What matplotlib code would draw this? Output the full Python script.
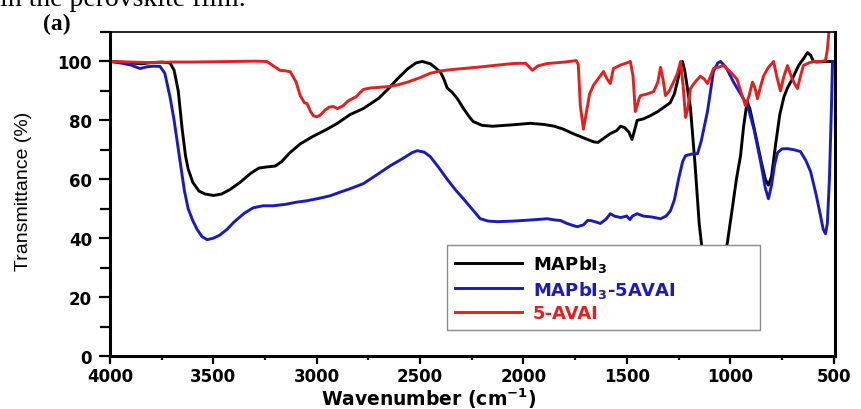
#!/usr/bin/env python3
# -*- coding: utf-8 -*-
"""
FTIR spectra: MAPbI3, MAPbI3-5AVAI and 5-AVAI
"""

import matplotlib
matplotlib.use('Agg')
import matplotlib.pyplot as plt
from matplotlib.ticker import MultipleLocator

plt.rcParams['font.family'] = ['DejaVu Sans']
plt.rcParams['mathtext.fontset'] = 'dejavusans'
plt.rcParams['mathtext.default'] = 'bf'

# MAPbI3 (black)
mapbi3_wn = [4000, 3950, 3900, 3850, 3800, 3750, 3710, 3690, 3670, 3651, 3635, 3622,
             3600, 3570, 3540, 3500, 3460, 3420, 3370, 3320, 3280, 3240, 3200, 3170,
             3130, 3080, 3020, 2950, 2900, 2838, 2775, 2700, 2650, 2611, 2560, 2520,
             2490, 2450, 2420, 2402, 2385, 2369, 2345, 2320, 2290, 2260, 2243, 2200,
             2150, 2050, 1967, 1900, 1850, 1807, 1760, 1725, 1690, 1660, 1640, 1610,
             1580, 1550, 1530, 1510, 1490, 1475, 1465, 1450, 1420, 1386, 1350, 1320,
             1290, 1270, 1256, 1240, 1231, 1220, 1205, 1192, 1170, 1150, 1134, 1100,
             1060, 1030, 1013, 990, 970, 950, 935, 918, 905, 880, 850, 830,
             815, 800, 780, 760, 740, 723, 700, 670, 640, 626, 610, 597,
             580, 540, 500]
mapbi3_t = [100, 99.8, 99.5, 99.2, 99.6, 99.8, 99.5, 97, 90, 77, 68, 63.5,
            59, 56, 55, 54.5, 55, 56.5, 59, 62, 63.8, 64.2, 64.5, 66,
            69, 72, 74.5, 77, 79, 82, 84, 87.5, 91, 94, 97.5, 99.5,
            100, 99.2, 97.5, 96.5, 94, 91, 89.5, 87.4, 84, 81, 79.6, 78.3,
            78, 78.5, 79, 78.6, 78, 77, 75.5, 74.5, 73.5, 72.7, 72.5, 74,
            75.5, 76.5, 78, 77.5, 76, 73.5, 76, 80, 80.5, 81.6, 83, 84.5,
            86, 89, 93, 98, 100, 97, 90, 84, 65, 45, 35, 20,
            20, 32, 38.8, 50, 60, 68, 78, 86.4, 84, 76, 66, 60,
            58, 61, 72, 82, 88, 91, 94, 98.5, 101.5, 103, 102, 100,
            99.8, 100, 100]

# MAPbI3-5AVAI (blue)
avai_film_wn = [4000, 3950, 3900, 3855, 3820, 3790, 3758, 3735, 3710, 3690, 3661, 3640,
                3622, 3600, 3579, 3555, 3530, 3500, 3470, 3434, 3400, 3350, 3308, 3260,
                3211, 3150, 3100, 3047, 2990, 2935, 2880, 2838, 2775, 2710, 2644, 2580,
                2540, 2514, 2480, 2451, 2410, 2369, 2330, 2291, 2250, 2209, 2170, 2127,
                2050, 1960, 1885, 1850, 1821, 1790, 1760, 1740, 1710, 1690, 1676, 1650,
                1628, 1600, 1580, 1560, 1530, 1500, 1485, 1473, 1450, 1420, 1380, 1337,
                1310, 1289, 1270, 1250, 1230, 1216, 1190, 1158, 1140, 1125, 1110, 1095,
                1081, 1060, 1047, 1020, 984, 950, 916, 885, 853, 830, 815, 800,
                785, 771, 750, 723, 690, 660, 635, 611, 585, 563, 550, 539,
                530, 520, 510, 505]
avai_film_t = [100, 99.5, 98.8, 97.6, 98.2, 98.4, 98.3, 96, 88, 80, 66, 56,
               50, 46, 43, 40.5, 39.5, 40, 41, 43, 45.5, 48.5, 50.3, 51,
               51, 51.5, 52.2, 52.7, 53.5, 54.4, 55.8, 56.8, 58.5, 61.5, 64.6, 67.2,
               69, 69.7, 69.2, 67.7, 64, 60, 56.5, 53.4, 50, 46.6, 45.8, 45.6,
               45.8, 46.2, 46.6, 46.2, 46, 45, 44.3, 43.9, 44.5, 46, 46, 45.5,
               45, 46.5, 48.3, 47.5, 47, 47.5, 46.3, 47.5, 48.3, 47.5, 47.2, 46.6,
               47.5, 49.3, 53, 60, 66, 68, 68.5, 68.7, 73, 78, 83, 90,
               96.6, 99.5, 100, 98, 93, 89, 85, 77, 66, 57, 53.4, 58,
               65, 69, 70.3, 70.4, 70, 69.4, 66.5, 62.6, 55, 47.6, 43, 41.5,
               45, 60, 85, 100]

# 5-AVAI (red)
avai_wn = [4000, 3900, 3800, 3700, 3600, 3500, 3400, 3300, 3242, 3210, 3178, 3150,
           3128, 3100, 3080, 3060, 3047, 3030, 3017, 3000, 2983, 2960, 2940, 2920,
           2900, 2872, 2850, 2838, 2810, 2775, 2740, 2700, 2650, 2611, 2560, 2500,
           2451, 2400, 2340, 2291, 2200, 2120, 2049, 1990, 1957, 1930, 1885, 1800,
           1745, 1735, 1725, 1710, 1695, 1680, 1661, 1640, 1613, 1595, 1580, 1565,
           1530, 1500, 1483, 1470, 1459, 1440, 1434, 1400, 1370, 1350, 1337, 1325,
           1313, 1295, 1274, 1255, 1240, 1228, 1216, 1205, 1192, 1170, 1144, 1125,
           1110, 1095, 1081, 1060, 1032, 1000, 967, 945, 926, 910, 892, 880,
           868, 855, 839, 815, 790, 775, 757, 740, 723, 700, 675, 660,
           646, 620, 597, 560, 539, 530, 520]
avai_t = [100, 99.8, 99.6, 99.8, 99.8, 99.9, 100, 100.1, 100, 98.5, 97, 96.8,
          96.5, 93, 88.4, 86, 85.7, 83, 81.6, 81.2, 81.8, 83.5, 84.5, 84.7,
          84, 85, 86.5, 87, 88, 90.5, 91, 91.2, 91.5, 92, 93, 94.5,
          96, 96.8, 97.3, 97.6, 98.2, 98.8, 99.3, 99.4, 97, 98.5, 99.3, 99.8,
          100.3, 99, 85, 77, 83, 89, 92, 94, 96.6, 94, 92.5, 97.6,
          98.8, 99.5, 100, 95, 83, 87.5, 88.4, 89, 89.8, 93, 98, 94,
          88.4, 90, 93, 96, 100, 92, 81, 84, 90.8, 93, 95, 94,
          92.5, 95, 97.6, 98, 98.6, 96.5, 94, 89, 85, 88, 93, 91,
          87.4, 91, 95, 98, 100, 95, 90, 95, 98.6, 94, 90.8, 95,
          98.6, 99.5, 100, 100, 100.3, 104, 112]

series_labels = [r'MAPbI$_{\mathbf{3}}$', r'MAPbI$_{\mathbf{3}}$-5AVAI', '5-AVAI']
series_colors = ['#000000', '#1a1ac4', '#e3201e']

x_ticks = [4000, 3500, 3000, 2500, 2000, 1500, 1000, 500]
y_ticks = [0, 20, 40, 60, 80, 100]


def main():
    fig = plt.figure(figsize=(8.61, 4.10), dpi=100)
    ax = fig.add_axes([0.1278, 0.1293, 0.8420, 0.7902])

    curves = [(mapbi3_wn, mapbi3_t), (avai_film_wn, avai_film_t), (avai_wn, avai_t)]
    for (wn, t), label, color in zip(curves, series_labels, series_colors):
        ax.plot(wn, t, color=color, lw=2.1, label=label, solid_joinstyle='round')

    # axes: wavenumber decreasing to the right
    ax.set_xlim(4000, 493)
    ax.set_ylim(0, 110)
    ax.set_xticks(x_ticks)
    ax.set_yticks(y_ticks)
    ax.xaxis.set_minor_locator(MultipleLocator(250))
    ax.yaxis.set_minor_locator(MultipleLocator(10))

    ax.tick_params(axis='x', which='major', direction='out', length=6, width=1.6, pad=2,
                   labelsize=12)
    ax.tick_params(axis='x', which='minor', direction='out', length=3, width=1.6)
    ax.tick_params(axis='y', which='major', direction='out', length=8, width=1.6, pad=5,
                   labelsize=12)
    ax.tick_params(axis='y', which='minor', direction='out', length=7, width=1.6)
    for lab in ax.get_xticklabels() + ax.get_yticklabels():
        lab.set_fontweight('bold')

    for side in ['left', 'bottom', 'right']:
        ax.spines[side].set_linewidth(2.2)
    ax.spines['top'].set_linewidth(1.2)

    ax.set_xlabel(r'Wavenumber (cm$^{\mathbf{-1}}$)', fontsize=13.5, fontweight='bold')
    ax.xaxis.set_label_coords(0.439, -0.092)
    ax.set_ylabel('Transmittance (%)', fontsize=14, family='Liberation Sans')
    ax.yaxis.set_label_coords(-0.108, 0.512)

    leg = ax.legend(loc='upper left', bbox_to_anchor=(0.465, 0.099, 0.432, 0.244),
                    mode='expand', borderaxespad=0, handlelength=3.7,
                    handletextpad=0.6, labelspacing=0.25, borderpad=0.45,
                    fancybox=False, framealpha=1, edgecolor='#8a8a8a',
                    labelcolor='linecolor', prop={'weight': 'bold', 'size': 13})
    leg.get_frame().set_linewidth(1.0)

    # panel label and the clipped caption line above the figure
    fig.text(0.050, 0.926, '(a)', fontsize=17, fontweight='bold',
             family='Liberation Serif', va='baseline')
    fig.text(0.0, 0.986, 'in the perovskite film.', fontsize=20,
             family='Liberation Serif', va='baseline')

    fig.savefig('out.png', dpi=100)
    plt.close(fig)


if __name__ == '__main__':
    main()
